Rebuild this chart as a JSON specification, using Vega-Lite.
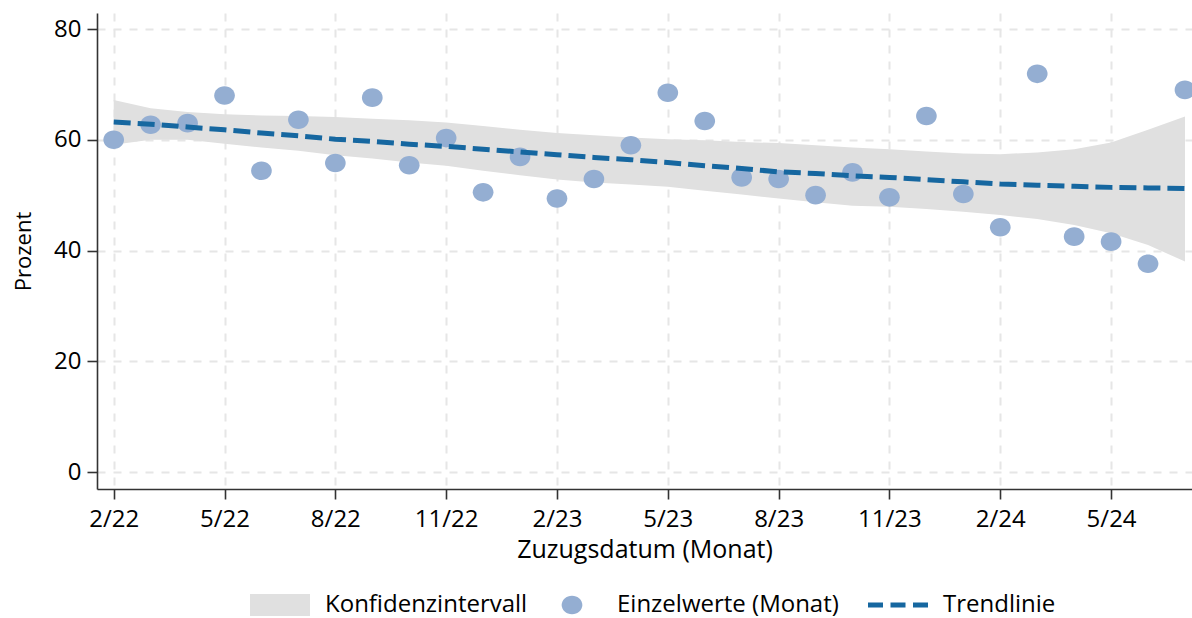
{
  "$schema": "https://vega.github.io/schema/vega-lite/v6.json",
  "width": 1095,
  "height": 476,
  "autosize": {"type": "none"},
  "padding": {"left": 97, "top": 13, "right": 0, "bottom": 129},
  "background": "white",
  "config": {
    "view": {"stroke": null},
    "font": "Open Sans",
    "axis": {
      "domainColor": "#333333",
      "domainWidth": 1.6,
      "tickColor": "#333333",
      "tickWidth": 1.6,
      "tickSize": 10,
      "labelFont": "Open Sans",
      "labelFontSize": 24,
      "labelColor": "#000000",
      "titleFont": "Open Sans",
      "titleFontWeight": "normal",
      "titleColor": "#000000",
      "gridColor": "#e6e6e6",
      "gridWidth": 2,
      "gridDash": [8, 8]
    },
    "legend": {
      "labelFont": "Open Sans",
      "labelFontSize": 24,
      "labelColor": "#000000",
      "labelLimit": 400
    }
  },
  "datasets": {
    "trend": [
      {"m": 0, "fit": 63.2, "lo": 59.1, "hi": 67.2},
      {"m": 1, "fit": 62.8, "lo": 60.0, "hi": 65.7},
      {"m": 2, "fit": 62.3, "lo": 60.0, "hi": 65.0},
      {"m": 3, "fit": 61.8, "lo": 59.3, "hi": 64.6},
      {"m": 4, "fit": 61.2, "lo": 58.6, "hi": 64.4},
      {"m": 5, "fit": 60.7, "lo": 58.0, "hi": 64.3},
      {"m": 6, "fit": 60.1, "lo": 57.2, "hi": 64.1},
      {"m": 7, "fit": 59.7, "lo": 56.6, "hi": 63.8},
      {"m": 8, "fit": 59.2, "lo": 55.9, "hi": 63.5},
      {"m": 9, "fit": 58.8, "lo": 55.3, "hi": 63.1},
      {"m": 10, "fit": 58.3, "lo": 54.4, "hi": 62.5},
      {"m": 11, "fit": 57.8, "lo": 53.6, "hi": 61.8},
      {"m": 12, "fit": 57.3, "lo": 52.8, "hi": 61.2},
      {"m": 13, "fit": 56.8, "lo": 52.3, "hi": 60.8},
      {"m": 14, "fit": 56.4, "lo": 51.9, "hi": 60.4},
      {"m": 15, "fit": 55.9, "lo": 51.5, "hi": 60.1},
      {"m": 16, "fit": 55.3, "lo": 50.8, "hi": 59.9},
      {"m": 17, "fit": 54.8, "lo": 50.1, "hi": 59.6},
      {"m": 18, "fit": 54.2, "lo": 49.4, "hi": 59.4},
      {"m": 19, "fit": 53.9, "lo": 48.7, "hi": 59.0},
      {"m": 20, "fit": 53.5, "lo": 48.1, "hi": 58.6},
      {"m": 21, "fit": 53.2, "lo": 47.9, "hi": 58.3},
      {"m": 22, "fit": 52.8, "lo": 47.5, "hi": 57.9},
      {"m": 23, "fit": 52.4, "lo": 47.0, "hi": 57.5},
      {"m": 24, "fit": 52.0, "lo": 46.4, "hi": 57.4},
      {"m": 25, "fit": 51.8, "lo": 45.7, "hi": 57.7},
      {"m": 26, "fit": 51.6, "lo": 44.6, "hi": 58.3},
      {"m": 27, "fit": 51.4, "lo": 43.1, "hi": 59.5},
      {"m": 28, "fit": 51.3, "lo": 41.0, "hi": 61.8},
      {"m": 29, "fit": 51.2, "lo": 38.0, "hi": 64.2}
    ],
    "points": [
      {"m": 0, "value": 60.0, "series": "Einzelwerte (Monat)"},
      {"m": 1, "value": 62.7, "series": "Einzelwerte (Monat)"},
      {"m": 2, "value": 63.0, "series": "Einzelwerte (Monat)"},
      {"m": 3, "value": 68.0, "series": "Einzelwerte (Monat)"},
      {"m": 4, "value": 54.4, "series": "Einzelwerte (Monat)"},
      {"m": 5, "value": 63.6, "series": "Einzelwerte (Monat)"},
      {"m": 6, "value": 55.8, "series": "Einzelwerte (Monat)"},
      {"m": 7, "value": 67.6, "series": "Einzelwerte (Monat)"},
      {"m": 8, "value": 55.4, "series": "Einzelwerte (Monat)"},
      {"m": 9, "value": 60.3, "series": "Einzelwerte (Monat)"},
      {"m": 10, "value": 50.5, "series": "Einzelwerte (Monat)"},
      {"m": 11, "value": 56.9, "series": "Einzelwerte (Monat)"},
      {"m": 12, "value": 49.4, "series": "Einzelwerte (Monat)"},
      {"m": 13, "value": 52.9, "series": "Einzelwerte (Monat)"},
      {"m": 14, "value": 59.0, "series": "Einzelwerte (Monat)"},
      {"m": 15, "value": 68.5, "series": "Einzelwerte (Monat)"},
      {"m": 16, "value": 63.4, "series": "Einzelwerte (Monat)"},
      {"m": 17, "value": 53.2, "series": "Einzelwerte (Monat)"},
      {"m": 18, "value": 52.9, "series": "Einzelwerte (Monat)"},
      {"m": 19, "value": 50.0, "series": "Einzelwerte (Monat)"},
      {"m": 20, "value": 54.1, "series": "Einzelwerte (Monat)"},
      {"m": 21, "value": 49.6, "series": "Einzelwerte (Monat)"},
      {"m": 22, "value": 64.3, "series": "Einzelwerte (Monat)"},
      {"m": 23, "value": 50.2, "series": "Einzelwerte (Monat)"},
      {"m": 24, "value": 44.2, "series": "Einzelwerte (Monat)"},
      {"m": 25, "value": 71.9, "series": "Einzelwerte (Monat)"},
      {"m": 26, "value": 42.5, "series": "Einzelwerte (Monat)"},
      {"m": 27, "value": 41.6, "series": "Einzelwerte (Monat)"},
      {"m": 28, "value": 37.6, "series": "Einzelwerte (Monat)"},
      {"m": 29, "value": 69.0, "series": "Einzelwerte (Monat)"}
    ]
  },
  "layer": [
    {
      "data": {"name": "trend"},
      "mark": {"type": "area", "color": "#e0e0e0", "opacity": 1},
      "encoding": {
        "x": {
          "field": "m", "type": "quantitative",
          "scale": {"domain": [-0.452, 29.19], "nice": false, "zero": false},
          "axis": {
            "title": "Zuzugsdatum (Monat)",
            "titleFontSize": 25,
            "titlePadding": 6,
            "values": [0, 3, 6, 9, 12, 15, 18, 21, 24, 27],
            "labelExpr": "((datum.value + 1) % 12 + 1) + '/' + (22 + floor((datum.value + 1) / 12))",
            "labelPadding": 8,
            "grid": true
          }
        },
        "y": {
          "field": "lo", "type": "quantitative",
          "scale": {"domain": [-3.07, 82.89], "nice": false, "zero": false},
          "axis": {
            "title": "Prozent",
            "titleFontSize": 22,
            "titlePadding": 18,
            "values": [0, 20, 40, 60, 80],
            "labelPadding": 6,
            "grid": true
          }
        },
        "y2": {"field": "hi"}
      }
    },
    {
      "data": {"name": "points"},
      "mark": {"type": "point", "filled": true, "opacity": 1, "size": 900, "strokeWidth": 0},
      "encoding": {
        "x": {"field": "m", "type": "quantitative"},
        "y": {"field": "value", "type": "quantitative"},
        "color": {
          "field": "series", "type": "nominal",
          "scale": {
            "domain": ["Konfidenzintervall", "Einzelwerte (Monat)", "Trendlinie"],
            "range": ["#e0e0e0", "#94aed2", "#1667a0"]
          },
          "legend": {
            "title": null,
            "orient": "none",
            "direction": "horizontal",
            "legendX": 168,
            "legendY": 577,
            "symbolSize": 900,
            "symbolStrokeWidth": 0,
            "labelOffset": 30,
            "columnPadding": 29,
            "labelLimit": 400
          }
        },
        "shape": {
          "field": "series", "type": "nominal",
          "scale": {
            "domain": ["Konfidenzintervall", "Einzelwerte (Monat)", "Trendlinie"],
            "range": [
              "M-2,-0.74H2V0.74H-2Z",
              "M-0.69,0A0.69,0.62 0 1,0 0.69,0A0.69,0.62 0 1,0 -0.69,0Z",
              "M-2,-0.17H-1V0.17H-2Z M-0.5,-0.17H0.5V0.17H-0.5Z M1,-0.17H2V0.17H1Z"
            ]
          },
          "legend": {
            "title": null,
            "orient": "none",
            "direction": "horizontal",
            "legendX": 168,
            "legendY": 577,
            "symbolSize": 900,
            "symbolStrokeWidth": 0,
            "labelOffset": 30,
            "columnPadding": 29,
            "labelLimit": 400
          }
        }
      }
    },
    {
      "data": {"name": "trend"},
      "mark": {"type": "line", "color": "#1667a0", "strokeWidth": 5, "strokeDash": [17, 7]},
      "encoding": {
        "x": {"field": "m", "type": "quantitative"},
        "y": {"field": "fit", "type": "quantitative"}
      }
    }
  ]
}
